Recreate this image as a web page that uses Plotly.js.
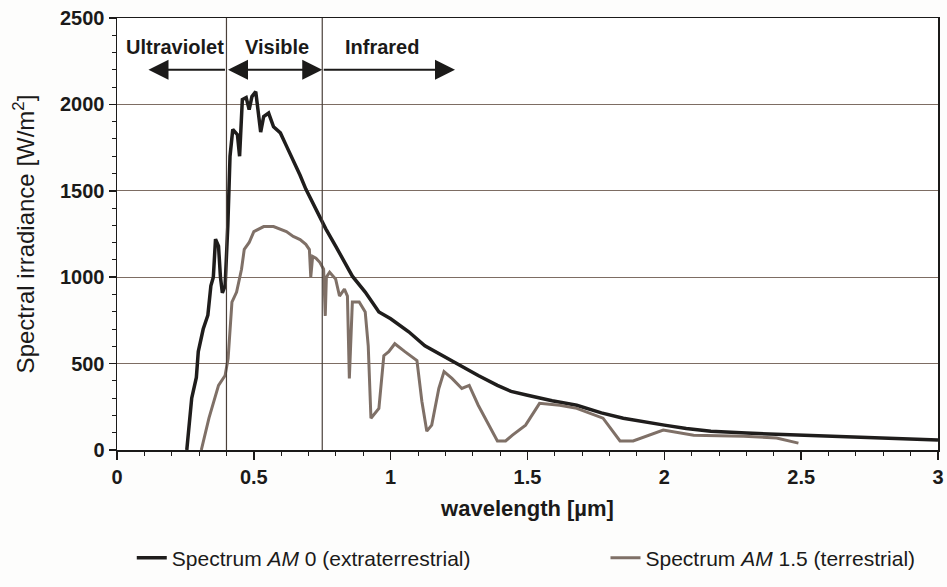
<!DOCTYPE html>
<html>
<head>
<meta charset="utf-8">
<script src="https://cdn.plot.ly/plotly-3.0.1.min.js"></script>
<style>html,body{margin:0;padding:0;background:#fdfdfc;}#chart{width:947px;height:587px;}</style>
</head>
<body>
<div id="chart"></div>
<script>
// Wavelength [µm] and spectral irradiance [W/m²]
var am0_wl = [0.255, 0.273, 0.29, 0.297, 0.315, 0.332, 0.343, 0.352, 0.36, 0.371, 0.378, 0.385, 0.395, 0.405, 0.413, 0.423, 0.44, 0.448, 0.458, 0.472, 0.483, 0.493, 0.507, 0.518, 0.525, 0.536, 0.554, 0.572, 0.597, 0.619, 0.644, 0.669, 0.69, 0.727, 0.763, 0.799, 0.86, 0.907, 0.957, 1.0, 1.066, 1.125, 1.19, 1.25, 1.32, 1.39, 1.44, 1.5, 1.59, 1.68, 1.77, 1.85, 1.93, 2.0, 2.08, 2.17, 2.3, 2.4, 2.5, 2.65, 2.78, 2.9, 3.0];
var am0_irr = [0, 300, 420, 570, 700, 780, 950, 1000, 1220, 1180, 1000, 910, 950, 1300, 1700, 1855, 1825, 1700, 2028, 2040, 1970, 2045, 2074, 1950, 1840, 1930, 1950, 1870, 1835, 1760, 1680, 1590, 1510, 1390, 1280, 1180, 1006, 914, 799, 759, 684, 603, 546, 489, 431, 374, 339, 317, 285, 259, 215, 184, 160, 144, 125, 109, 98, 92, 86, 76, 69, 63, 58];

var am15_wl = [0.308, 0.336, 0.371, 0.395, 0.406, 0.42, 0.437, 0.455, 0.465, 0.483, 0.5, 0.536, 0.572, 0.619, 0.644, 0.669, 0.69, 0.703, 0.708, 0.715, 0.727, 0.741, 0.755, 0.761, 0.765, 0.777, 0.799, 0.813, 0.831, 0.842, 0.849, 0.855, 0.86, 0.885, 0.907, 0.918, 0.928, 0.957, 0.975, 0.993, 1.015, 1.052, 1.096, 1.114, 1.132, 1.15, 1.176, 1.195, 1.224, 1.26, 1.287, 1.32, 1.36, 1.39, 1.42, 1.445, 1.493, 1.544, 1.618, 1.68, 1.776, 1.838, 1.886, 1.996, 2.107, 2.29, 2.41, 2.49];
var am15_irr = [0, 184, 374, 431, 529, 856, 914, 1046, 1161, 1201, 1264, 1293, 1293, 1264, 1236, 1218, 1190, 1160, 1000, 1120, 1110, 1086, 1046, 776, 1000, 1029, 989, 891, 931, 891, 414, 700, 856, 856, 799, 603, 184, 241, 546, 569, 615, 569, 517, 282, 109, 144, 356, 454, 414, 356, 374, 259, 144, 52, 52, 86, 144, 270, 259, 241, 184, 52, 52, 115, 86, 80, 69, 40];

var series_names = ["Spectrum <i>AM</i> 0 (extraterrestrial)", "Spectrum <i>AM</i> 1.5 (terrestrial)"];
var x_ticks = [0, 0.5, 1, 1.5, 2, 2.5, 3];
var x_tick_labels = ["0", "0.5", "1", "1.5", "2", "2.5", "3"];
var y_ticks = [0, 500, 1000, 1500, 2000, 2500];
var y_tick_labels = ["0", "500", "1000", "1500", "2000", "2500"];
var band_edges = [0.4, 0.75];
var band_names = ["Ultraviolet", "Visible", "Infrared"];
var band_label_x = [0.213, 0.583, 0.968];
var band_arrow_ends = [0.115, 1.235];

var gridColor = "#7d6d63";
var ink = "#1b1a19";
var legendFont = {family: "Liberation Sans, Arial, sans-serif", size: 21, color: ink};

var traces = [
  {x: am0_wl, y: am0_irr, type: "scatter", mode: "lines", name: series_names[0],
   line: {color: "#1f1d1c", width: 3.5}, legend: "legend"},
  {x: am15_wl, y: am15_irr, type: "scatter", mode: "lines", name: series_names[1],
   line: {color: "#7f7067", width: 3}, legend: "legend2"}
];

var shapes = band_edges.map(function (b) {
  return {type: "line", xref: "x", yref: "y", x0: b, x1: b, y0: 0, y1: 2500,
          line: {color: "#4a403a", width: 1.2}};
});

var arrowY = 2200, labelY = 2335;
var annotations = [];
band_names.forEach(function (n, i) {
  annotations.push({x: band_label_x[i], y: labelY, xref: "x", yref: "y", text: n,
    showarrow: false, font: {family: "Liberation Sans, Arial, sans-serif", size: 20, color: ink, weight: "bold"}});
});
// Ultraviolet arrow (points left)
annotations.push({x: band_arrow_ends[0], y: arrowY, ax: band_edges[0], ay: arrowY,
  xref: "x", yref: "y", axref: "x", ayref: "y", text: "", showarrow: true,
  arrowhead: 2, arrowsize: 2, arrowwidth: 2, arrowcolor: ink});
// Visible arrow (both ends)
annotations.push({x: band_edges[1], y: arrowY, ax: band_edges[0], ay: arrowY,
  xref: "x", yref: "y", axref: "x", ayref: "y", text: "", showarrow: true, arrowside: "end+start",
  arrowhead: 2, startarrowhead: 2, arrowsize: 2, startarrowsize: 2, arrowwidth: 2, arrowcolor: ink});
// Infrared arrow (points right)
annotations.push({x: band_arrow_ends[1], y: arrowY, ax: band_edges[1], ay: arrowY,
  xref: "x", yref: "y", axref: "x", ayref: "y", text: "", showarrow: true,
  arrowhead: 2, arrowsize: 2, arrowwidth: 2, arrowcolor: ink});

var layout = {
  width: 947, height: 587,
  margin: {l: 117, r: 9, t: 18, b: 135, pad: 0},
  paper_bgcolor: "#fdfdfc", plot_bgcolor: "#ffffff",
  font: {family: "Liberation Sans, Arial, sans-serif", color: ink},
  showlegend: true,
  legend: {orientation: "h", x: 0.018, xanchor: "left", y: -0.25, yanchor: "middle",
    font: legendFont, bgcolor: "rgba(0,0,0,0)"},
  legend2: {orientation: "h", x: 0.595, xanchor: "left", y: -0.25, yanchor: "middle",
    font: legendFont, bgcolor: "rgba(0,0,0,0)"},
  xaxis: {range: [0, 3], tickvals: x_ticks, ticktext: x_tick_labels,
    showgrid: false, zeroline: false, showline: true, linecolor: ink, linewidth: 1.5, mirror: true,
    ticks: "outside", ticklen: 8, tickwidth: 1.5, tickcolor: ink,
    minor: {dtick: 0.1, ticks: "outside", ticklen: 4, tickwidth: 1, tickcolor: ink, showgrid: false},
    tickfont: {size: 20, color: ink, weight: "bold"},
    title: {text: "wavelength [µm]", standoff: 14, font: {size: 22, color: ink, weight: "bold"}},
    fixedrange: true},
  yaxis: {range: [0, 2500], tickvals: y_ticks, ticktext: y_tick_labels,
    showgrid: true, gridcolor: gridColor, gridwidth: 1, zeroline: false,
    showline: true, linecolor: ink, linewidth: 1.5, mirror: true,
    ticks: "outside", ticklen: 7, tickwidth: 1.5, tickcolor: ink,
    minor: {dtick: 100, ticks: "outside", ticklen: 4, tickwidth: 1, tickcolor: ink, showgrid: false},
    tickfont: {size: 20, color: ink, weight: "bold"},
    title: {text: "Spectral irradiance [W/m<sup>2</sup>]", standoff: 18,
      font: {family: "Liberation Sans, Arial, sans-serif", size: 24, color: ink}},
    fixedrange: true},
  shapes: shapes,
  annotations: annotations
};

Plotly.newPlot("chart", traces, layout, {displayModeBar: false, staticPlot: true});
</script>
</body>
</html>
